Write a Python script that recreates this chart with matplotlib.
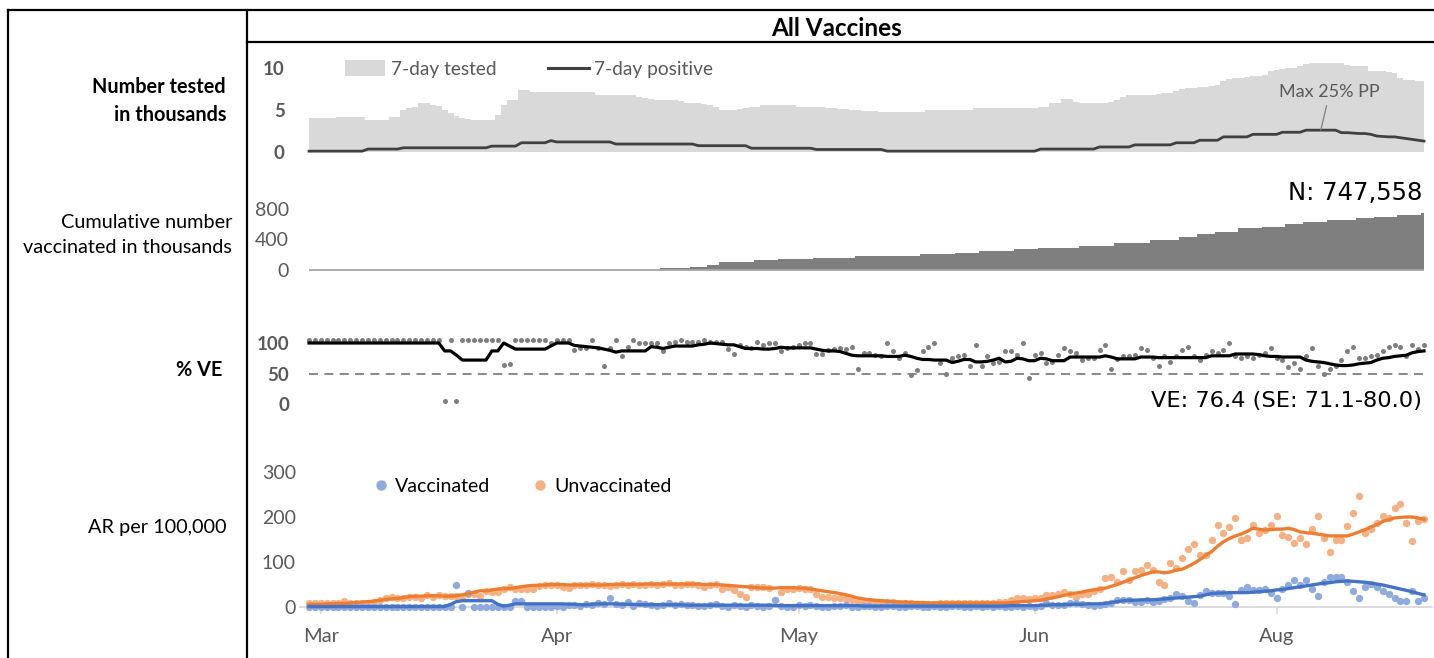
import numpy as np
import matplotlib
matplotlib.use("Agg")
import matplotlib.pyplot as plt
from matplotlib.lines import Line2D
from matplotlib.patches import Patch

# ---------------- data ----------------
tested = [
    4.0, 4.0, 4.0, 4.0, 4.0, 4.2, 4.2, 4.2, 4.2, 4.2,
    3.8, 3.8, 3.8, 3.8, 4.2, 4.2, 5.0, 5.2, 5.4, 5.8,
    5.8, 5.6, 5.5, 5.0, 4.6, 4.3, 4.0, 3.9, 3.8, 3.8,
    3.8, 3.8, 4.4, 5.6, 6.2, 6.2, 7.4, 7.4, 7.1, 7.1,
    7.1, 7.1, 7.1, 7.1, 7.1, 7.2, 7.2, 7.2, 7.2, 6.8,
    6.8, 6.8, 6.8, 6.8, 6.8, 6.8, 6.5, 6.4, 6.3, 6.2,
    6.2, 6.2, 6.2, 6.1, 5.8, 5.8, 5.8, 5.7, 5.6, 5.4,
    5.0, 5.0, 5.0, 5.1, 5.2, 5.3, 5.4, 5.6, 5.6, 5.6,
    5.6, 5.6, 5.6, 5.4, 5.4, 5.4, 5.3, 5.3, 5.2, 5.2,
    5.1, 5.1, 5.0, 5.0, 4.9, 4.9, 4.9, 4.8, 4.8, 4.8,
    4.8, 4.8, 4.8, 4.8, 4.8, 5.0, 5.0, 5.0, 5.0, 5.0,
    5.0, 5.0, 5.0, 5.2, 5.2, 5.2, 5.2, 5.2, 5.2, 5.2,
    5.2, 5.2, 5.2, 5.2, 5.3, 5.4, 5.8, 5.8, 6.3, 6.3,
    5.9, 5.8, 5.8, 5.8, 5.8, 5.8, 5.9, 6.2, 6.6, 6.8,
    6.8, 6.8, 6.8, 6.8, 6.9, 7.0, 7.0, 7.3, 7.5, 7.6,
    7.6, 7.7, 7.7, 7.8, 8.0, 8.5, 8.7, 8.8, 8.8, 8.9,
    9.0, 9.0, 9.2, 9.6, 9.8, 9.9, 10.0, 10.0, 10.2, 10.5,
    10.6, 10.6, 10.6, 10.6, 10.6, 10.6, 10.3, 10.2, 10.2, 10.2,
    9.7, 9.6, 9.6, 9.5, 9.4, 8.8, 8.6, 8.6, 8.5, 8.5,
]

positive = [
    0.1, 0.1, 0.1, 0.1, 0.1, 0.1, 0.1, 0.1, 0.1, 0.1,
    0.35, 0.35, 0.35, 0.35, 0.35, 0.35, 0.5, 0.5, 0.5, 0.5,
    0.5, 0.5, 0.5, 0.5, 0.5, 0.5, 0.5, 0.5, 0.5, 0.5,
    0.5, 0.7, 0.7, 0.7, 0.7, 0.7, 1.1, 1.1, 1.1, 1.1,
    1.1, 1.35, 1.2, 1.2, 1.2, 1.2, 1.2, 1.2, 1.2, 1.2,
    1.2, 1.2, 0.95, 0.95, 0.95, 0.95, 0.95, 0.95, 0.95, 0.95,
    0.95, 0.95, 0.95, 0.95, 0.95, 0.95, 0.75, 0.75, 0.75, 0.75,
    0.75, 0.75, 0.75, 0.75, 0.75, 0.45, 0.45, 0.45, 0.45, 0.45,
    0.45, 0.45, 0.45, 0.45, 0.45, 0.45, 0.3, 0.3, 0.3, 0.3,
    0.3, 0.3, 0.3, 0.3, 0.3, 0.3, 0.3, 0.3, 0.1, 0.1,
    0.1, 0.1, 0.1, 0.1, 0.1, 0.1, 0.1, 0.1, 0.1, 0.1,
    0.1, 0.1, 0.1, 0.1, 0.1, 0.1, 0.1, 0.1, 0.1, 0.1,
    0.1, 0.1, 0.1, 0.1, 0.35, 0.35, 0.35, 0.35, 0.35, 0.35,
    0.35, 0.35, 0.35, 0.35, 0.6, 0.6, 0.6, 0.6, 0.6, 0.6,
    0.85, 0.85, 0.85, 0.85, 0.85, 0.85, 0.85, 1.1, 1.1, 1.1,
    1.1, 1.4, 1.4, 1.4, 1.4, 1.8, 1.8, 1.8, 1.8, 1.8,
    2.1, 2.1, 2.1, 2.1, 2.1, 2.35, 2.35, 2.35, 2.35, 2.6,
    2.6, 2.6, 2.6, 2.6, 2.6, 2.3, 2.3, 2.25, 2.2, 2.2,
    2.1, 1.9, 1.85, 1.8, 1.8, 1.7, 1.6, 1.5, 1.4, 1.3,
]

cum_vaccinated = [
    0, 0, 0, 0, 0, 0, 0, 0, 0, 0,
    0, 0, 0, 0, 0, 0, 0, 0, 0, 0,
    0, 0, 0, 0, 0, 0, 0, 0, 0, 0,
    0, 0, 0, 0, 0, 0, 0, 0, 0, 0,
    0, 0, 0, 0, 0, 0, 0, 0, 0, 0,
    0, 0, 0, 0, 0, 0, 0, 0, 0, 0,
    22, 22, 22, 22, 22, 44, 44, 44, 66, 66,
    100, 100, 100, 100, 100, 100, 125, 125, 125, 125,
    142, 142, 142, 142, 142, 142, 163, 163, 163, 163,
    163, 163, 163, 182, 182, 182, 182, 182, 182, 182,
    182, 182, 182, 182, 207, 207, 207, 207, 207, 207,
    228, 228, 228, 228, 247, 247, 247, 247, 247, 247,
    270, 270, 270, 270, 285, 285, 285, 285, 285, 285,
    285, 320, 320, 320, 320, 320, 320, 355, 355, 355,
    355, 355, 355, 390, 390, 390, 390, 390, 430, 430,
    430, 470, 470, 470, 500, 500, 500, 500, 545, 545,
    545, 545, 570, 570, 570, 570, 600, 600, 600, 630,
    630, 630, 630, 650, 650, 650, 650, 650, 680, 680,
    680, 700, 700, 700, 700, 725, 725, 725, 725, 747.558,
]

ve_daily = [
    105, 105, 105, 105, 105, 105, 105, 105, 105, 105,
    105, 105, 105, 105, 105, 105, 105, 105, 105, 105,
    105, 105, 105, 5, 105, 5, 105, 105, 105, 105,
    105, 105, 105, 64, 66, 105, 105, 105, 105, 105,
    105, 100, 105, 105, 105, 88, 91, 91, 105, 92,
    63, 92, 105, 79, 94, 105, 100, 100, 100, 100,
    87, 100, 102, 105, 102, 102, 101, 105, 102, 102,
    102, 90, 82, 97, 94, 92, 102, 97, 100, 100,
    87, 92, 94, 97, 100, 100, 82, 82, 89, 90,
    92, 90, 94, 58, 83, 83, 80, 78, 100, 87,
    75, 83, 48, 56, 87, 94, 100, 68, 50, 75,
    79, 81, 63, 97, 63, 79, 67, 69, 87, 87,
    81, 100, 43, 81, 84, 68, 69, 81, 91, 87,
    84, 72, 75, 76, 89, 97, 58, 74, 79, 79,
    81, 91, 89, 75, 63, 79, 69, 79, 89, 94,
    79, 72, 81, 87, 84, 89, 100, 79, 75, 79,
    76, 81, 84, 91, 75, 72, 61, 67, 58, 79,
    91, 63, 50, 58, 63, 72, 87, 94, 75, 75,
    79, 81, 87, 94, 97, 94, 79, 97, 90, 97,
]

ve_smooth = [
    100, 100, 100, 100, 100, 100, 100, 100, 100, 100,
    100, 100, 100, 100, 100, 100, 100, 100, 100, 100,
    100, 100, 100, 87, 87, 80, 72, 72, 72, 72,
    72, 87, 87, 100, 95, 90, 90, 90, 90, 90,
    90, 95, 100, 100, 100, 96, 95, 94, 93, 92,
    90, 88, 85, 87, 87, 87, 87, 87, 94, 93,
    91, 93, 95, 95, 95, 95, 97, 98, 100, 99,
    98, 97, 97, 94, 91, 91, 91, 90, 90, 91,
    93, 92, 92, 92, 92, 92, 90, 88, 87, 87,
    86, 83, 80, 79, 79, 79, 79, 79, 78, 78,
    78, 80, 78, 75, 73, 73, 72, 72, 72, 68,
    70, 73, 73, 69, 69, 70, 72, 75, 69, 70,
    75, 74, 71, 71, 75, 74, 71, 71, 71, 77,
    77, 77, 77, 77, 77, 79, 77, 74, 74, 74,
    74, 77, 77, 77, 76, 76, 76, 76, 76, 76,
    76, 76, 76, 79, 79, 79, 79, 82, 82, 82,
    82, 81, 79, 78, 78, 77, 77, 77, 77, 72,
    70, 69, 68, 66, 64, 63, 63, 64, 66, 67,
    68, 72, 75, 76, 78, 79, 80, 84, 86, 87,
]

ar_vacc_daily = [
    0, 0, 0, 0, 0, 0, 0, 0, 0, 0,
    0, 0, 0, 0, 0, 0, 0, 0, 0, 0,
    0, 0, 0, 0, 0, 49, 0, 32, 0, 0,
    0, 0, 0, 0, 0, 14, 14, 0, 0, 0,
    0, 0, 2, 0, 4, 5, 3, 6, 5, 8,
    7, 19, 6, 4, 12, 3, 8, 7, 4, 3,
    5, 9, 4, 6, 5, 4, 3, 2, 4, 6,
    2, 0, 4, 3, 1, 5, 3, 0, 2, 16,
    3, 1, 0, 4, 2, 5, 3, 1, 0, 3,
    2, 4, 1, 0, 3, 2, 0, 1, 3, 2,
    1, 0, 2, 3, 1, 0, 2, 1, 0, 2,
    3, 1, 0, 2, 1, 3, 0, 2, 1, 0,
    2, 0, 3, 1, 2, 8, 5, 4, 5, 8,
    10, 6, 4, 3, 5, 6, 8, 15, 16, 16,
    11, 11, 15, 12, 14, 17, 21, 29, 24, 14,
    10, 27, 36, 32, 32, 32, 24, 7, 38, 45,
    38, 38, 39, 32, 21, 41, 49, 60, 49, 61,
    41, 24, 56, 66, 66, 66, 56, 36, 21, 45,
    51, 45, 36, 30, 21, 14, 14, 36, 14, 20,
]

ar_vacc_smooth = [
    1, 1, 1, 1, 1, 1, 1, 1, 1, 1,
    1, 1, 1, 1, 1, 1, 1, 1, 1, 1,
    1, 1, 1, 1, 6, 12, 14, 14, 14, 14,
    14, 14, 6, 2, 4, 7, 7, 7, 7, 7,
    7, 7, 7, 7, 6, 6, 5, 5, 6, 7,
    7, 7, 7, 6, 6, 6, 5, 5, 5, 5,
    5, 5, 5, 5, 4, 4, 4, 4, 4, 4,
    4, 4, 4, 4, 4, 4, 4, 4, 4, 3,
    3, 3, 3, 3, 3, 3, 3, 3, 3, 3,
    3, 3, 3, 3, 2, 2, 2, 2, 2, 2,
    2, 2, 2, 2, 2, 2, 2, 2, 2, 2,
    2, 2, 2, 2, 2, 2, 2, 2, 2, 3,
    3, 3, 3, 3, 4, 4, 5, 5, 5, 6,
    6, 6, 7, 7, 7, 8, 10, 12, 14, 15,
    15, 16, 16, 16, 17, 18, 19, 20, 21, 22,
    23, 24, 27, 30, 31, 31, 32, 32, 32, 32,
    33, 34, 35, 36, 38, 39, 41, 43, 45, 47,
    49, 51, 53, 54, 56, 57, 58, 57, 56, 55,
    53, 51, 49, 46, 43, 40, 37, 34, 30, 27,
]

ar_unvacc_daily = [
    8, 8, 8, 8, 8, 9, 13, 8, 8, 8,
    8, 11, 16, 21, 23, 21, 19, 23, 23, 21,
    27, 23, 27, 25, 25, 25, 19, 30, 30, 25,
    36, 34, 34, 39, 45, 39, 41, 39, 41, 47,
    50, 50, 50, 44, 42, 48, 50, 49, 51, 48,
    50, 47, 49, 51, 50, 52, 48, 50, 51, 49,
    51, 53, 50, 48, 51, 52, 50, 44, 49, 52,
    41, 44, 38, 30, 23, 45, 45, 45, 42, 16,
    34, 41, 41, 42, 41, 41, 30, 23, 23, 19,
    19, 17, 16, 12, 12, 13, 12, 12, 11, 12,
    10, 10, 8, 7, 6, 7, 6, 8, 9, 8,
    9, 9, 8, 9, 10, 9, 10, 11, 12, 16,
    19, 19, 17, 20, 19, 27, 27, 30, 34, 28,
    23, 30, 30, 36, 41, 64, 67, 55, 79, 60,
    79, 82, 93, 82, 56, 49, 98, 86, 108, 129,
    140, 116, 116, 150, 182, 164, 178, 198, 149, 153,
    182, 165, 171, 182, 202, 160, 156, 143, 153, 139,
    173, 202, 153, 123, 149, 150, 181, 208, 247, 164,
    173, 186, 202, 198, 219, 229, 187, 147, 192, 195,
]

ar_unvacc_smooth = [
    6, 6, 6, 7, 7, 8, 8, 9, 10, 11,
    12, 13, 15, 17, 18, 19, 21, 23, 24, 24,
    25, 25, 25, 24, 24, 25, 27, 30, 33, 36,
    36, 38, 40, 41, 41, 43, 45, 47, 48, 48,
    49, 50, 50, 50, 49, 49, 49, 49, 49, 49,
    49, 50, 50, 50, 50, 50, 50, 51, 51, 51,
    51, 51, 51, 51, 51, 51, 51, 50, 50, 50,
    49, 48, 47, 46, 45, 44, 43, 42, 42, 42,
    43, 43, 43, 42, 42, 40, 38, 36, 34, 32,
    30, 27, 24, 20, 18, 16, 15, 14, 13, 12,
    11, 11, 10, 10, 10, 9, 9, 9, 9, 9,
    9, 9, 9, 9, 9, 9, 9, 9, 9, 10,
    11, 12, 13, 14, 15, 18, 20, 23, 26, 29,
    31, 33, 36, 38, 40, 42, 46, 50, 55, 60,
    65, 70, 74, 78, 78, 76, 78, 82, 84, 90,
    97, 105, 115, 123, 135, 145, 152, 158, 162, 168,
    175, 173, 171, 172, 173, 173, 175, 172, 167, 165,
    164, 162, 160, 158, 158, 158, 158, 162, 167, 172,
    178, 183, 190, 194, 198, 199, 200, 200, 198, 195,
]

month_labels = ["Mar", "Apr", "May", "Jun", "Aug"]
month_days = [2, 42, 83, 123, 164]

ve_estimate = "76.4"
ve_interval = "71.1-80.0"

# ---------------- figure ----------------
W, H = 1434, 658
fig = plt.figure(figsize=(W / 100, H / 100), dpi=100)
plt.rcParams["font.family"] = ["Lato", "DejaVu Sans"]
TXT = "#595959"

def fx(px):
    return px / W

def fy(py):
    return 1 - py / H

# layout in pixels: first day at x=309, last day at x=1424
X_FIRST, X_LAST = 309, 1424
N = len(tested)
PX_PER_DAY = (X_LAST - X_FIRST) / (N - 1)
AX_L, AX_R = 300, 1432

def make_axes(top_px, bottom_px, v_a, y_a, v_b, y_b):
    ax = fig.add_axes([fx(AX_L), fy(bottom_px), (AX_R - AX_L) / W, (bottom_px - top_px) / H])
    slope = (y_b - y_a) / (v_b - v_a)
    ax.set_ylim(v_a + (bottom_px - y_a) / slope, v_a + (top_px - y_a) / slope)
    ax.set_xlim((AX_L - X_FIRST) / PX_PER_DAY, (AX_R - X_FIRST) / PX_PER_DAY)
    for s in ax.spines.values():
        s.set_visible(False)
    ax.set_facecolor("none")
    ax.set_xticks([])
    return ax

# frame lines
for (x0, y0, x1, y1) in [(8, 10, 1434, 10), (247, 42, 1434, 42), (8, 10, 8, 658), (247, 10, 247, 658)]:
    fig.add_artist(Line2D([fx(x0), fx(x1)], [fy(y0), fy(y1)], transform=fig.transFigure,
                          color="black", lw=1.6))
fig.text(fx(837), fy(28), "All Vaccines", ha="center", va="center", fontsize=17.5, fontweight="bold")

# row labels
LBL = 14.3
fig.text(fx(226), fy(101), "Number tested\nin thousands", ha="right", va="center",
         fontsize=LBL, fontweight="bold", linespacing=1.55, multialignment="right")
fig.text(fx(232), fy(235), "Cumulative number\nvaccinated in thousands", ha="right", va="center",
         fontsize=LBL, linespacing=1.55, multialignment="right")
fig.text(fx(222), fy(370), "% VE", ha="right", va="center", fontsize=LBL, fontweight="bold")
fig.text(fx(226), fy(528), "AR per 100,000", ha="right", va="center", fontsize=LBL)

# ---- panel 1: tested / positive
ax1 = make_axes(55, 160, 0, 152, 10, 68)
d_t = np.arange(len(tested))
d_p = np.arange(len(positive))
ax1.fill_between(d_t, tested, step="mid", color="#d9d9d9", lw=0)
ax1.plot(d_p, positive, color="#404040", lw=2.0)
ax1.set_yticks([0, 5, 10])
ax1.set_yticklabels(["0", "5", "10"], fontweight="bold", color=TXT, fontsize=13.5)
ax1.tick_params(axis="y", length=0, pad=11)
pos_arr = np.array(positive)
peak_idx = np.where(pos_arr == pos_arr.max())[0]
peak_x = peak_idx.mean()
ax1.annotate("Max 25% PP", xy=(peak_x, pos_arr.max()), xytext=(9, 38), textcoords="offset pixels",
             ha="center", va="center", fontsize=13, color=TXT,
             arrowprops=dict(arrowstyle="-", color="#7f7f7f", lw=0.9, shrinkA=2, shrinkB=0))
h1 = [Patch(facecolor="#d9d9d9", edgecolor="none", label="7-day tested"),
      Line2D([], [], color="#404040", lw=2.2, label="7-day positive")]
ax1.legend(handles=h1, loc="center left", bbox_to_anchor=(fx(345), fy(69)),
           bbox_transform=fig.transFigure, ncol=2, frameon=False, fontsize=13.8,
           labelcolor=TXT, borderpad=0, borderaxespad=0, handlelength=2.1,
           handleheight=0.85, handletextpad=0.3, columnspacing=2.7)

# ---- panel 2: cumulative vaccinated
ax2 = make_axes(180, 282, 0, 270, 800, 209)
d_c = np.arange(len(cum_vaccinated))
ax2.fill_between(d_c, cum_vaccinated, step="mid", color="#7f7f7f", lw=0)
ax2.hlines(0, d_c[0], d_c[-1], color="#a6a6a6", lw=1.3)
ax2.set_yticks([0, 400, 800])
ax2.set_yticklabels(["0", "400", "800"], color=TXT, fontsize=14)
ax2.tick_params(axis="y", length=0, pad=8)
fig.text(fx(1422), fy(193), f"N: {cum_vaccinated[-1] * 1000:,.0f}", ha="right", va="center",
         fontsize=17.5, family="DejaVu Sans")

# ---- panel 3: VE
ax3 = make_axes(325, 415, 0, 404, 100, 343)
d_v = np.arange(len(ve_daily))
ax3.hlines(50, d_v[0], d_v[-1], colors="#7f7f7f", linestyles=(0, (5, 3.5)), lw=1.3, zorder=1)
ax3.scatter(d_v, ve_daily, s=13, color="#7f7f7f", lw=0, zorder=2)
ax3.plot(np.arange(len(ve_smooth)), ve_smooth, color="black", lw=2.3, zorder=3)
ax3.set_yticks([0, 50, 100])
ax3.set_yticklabels(["0", "50", "100"], fontweight="bold", color=TXT, fontsize=13.5)
ax3.tick_params(axis="y", length=0, pad=8)
fig.text(fx(1422), fy(401), f"VE: {ve_estimate} (SE: {ve_interval})", ha="right", va="center",
         fontsize=16.2, family="DejaVu Sans")

# ---- panel 4: attack rates
ax4 = make_axes(455, 625, 0, 607, 300, 472)
d_a = np.arange(len(ar_vacc_daily))
ax4.scatter(np.arange(len(ar_unvacc_daily)), ar_unvacc_daily, s=28, color="#f4b183", lw=0, zorder=3)
ax4.scatter(d_a, ar_vacc_daily, s=28, color="#8faadc", lw=0, zorder=3)
ax4.plot(np.arange(len(ar_unvacc_smooth)), ar_unvacc_smooth, color="#ed7d31", lw=2.4, zorder=4)
ax4.plot(np.arange(len(ar_vacc_smooth)), ar_vacc_smooth, color="#4472c4", lw=2.4, zorder=5)
ax4.spines["bottom"].set_visible(True)
ax4.spines["bottom"].set_position(("data", 0))
ax4.spines["bottom"].set_color("#d9d9d9")
ax4.spines["bottom"].set_linewidth(1.3)
ax4.set_xticks(month_days)
ax4.set_xticklabels(month_labels, color=TXT, fontsize=14.5)
ax4.tick_params(axis="x", length=5, width=1.2, color="#d9d9d9", direction="out", pad=10)
ax4.set_yticks([0, 100, 200, 300])
ax4.set_yticklabels(["0", "100", "200", "300"], color=TXT, fontsize=14)
ax4.tick_params(axis="y", length=0, pad=3)
h4 = [Line2D([], [], marker="o", ls="none", markersize=7.5, markerfacecolor="#8faadc",
             markeredgecolor="none", label="Vaccinated"),
      Line2D([], [], marker="o", ls="none", markersize=7.5, markerfacecolor="#f4b183",
             markeredgecolor="none", label="Unvaccinated")]
ax4.legend(handles=h4, loc="center left", bbox_to_anchor=(fx(374), fy(486)),
           bbox_transform=fig.transFigure, ncol=2, frameon=False, fontsize=14,
           borderpad=0, borderaxespad=0, handlelength=0.7, handletextpad=0.4, columnspacing=2.2)

fig.savefig("out.png", dpi=100)
